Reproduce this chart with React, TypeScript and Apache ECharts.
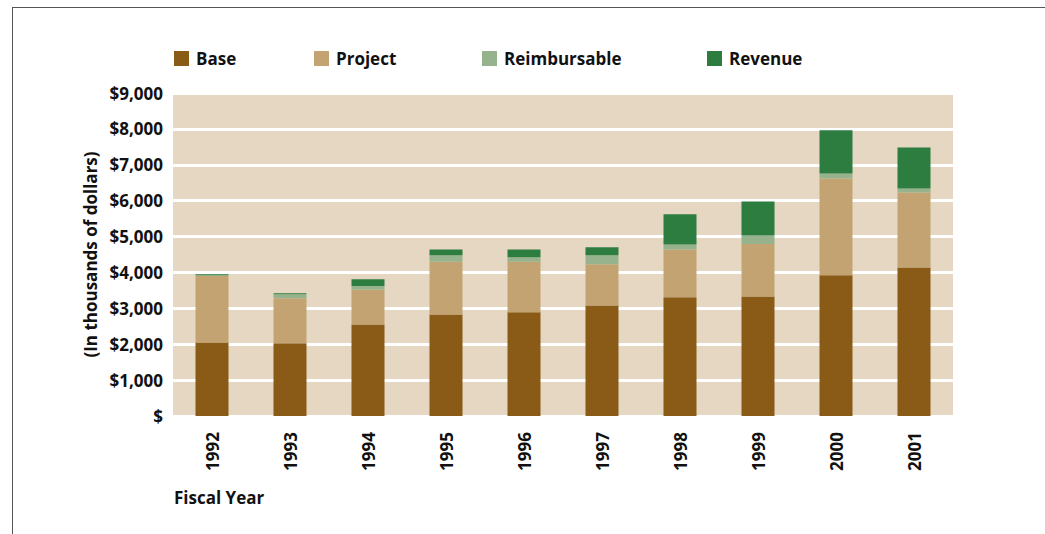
import React, { useEffect, useRef } from "react";
import * as echarts from "echarts";

const years = ["1992", "1993", "1994", "1995", "1996", "1997", "1998", "1999", "2000", "2001"];
const base = [2050, 2030, 2550, 2830, 2890, 3080, 3310, 3330, 3920, 4140];
const project = [1850, 1250, 970, 1470, 1410, 1150, 1330, 1460, 2700, 2090];
const reimbursable = [20, 110, 100, 180, 120, 250, 140, 240, 140, 110];
const revenue = [30, 30, 190, 160, 220, 220, 840, 950, 1200, 1140];
const yTicks = [0, 1000, 2000, 3000, 4000, 5000, 6000, 7000, 8000, 9000];

const FONT = "'Open Sans', 'DejaVu Sans', sans-serif";
const colors = {
  Base: "#8A5A17",
  Project: "#C4A372",
  Reimbursable: "#97B38D",
  Revenue: "#2D7D41",
};

export default function App() {
  const ref = useRef<HTMLDivElement>(null);
  useEffect(() => {
    if (!ref.current) return;
    const chart = echarts.init(ref.current, null, { renderer: "svg" });
    const mkSeries = (name: string, data: number[]) => ({
      name,
      type: "bar",
      stack: "total",
      data,
      barWidth: 33,
      itemStyle: { color: (colors as any)[name] },
    });
    const legendItem = (name: string, left: number) => ({
      data: [name],
      left,
      top: 45,
      itemWidth: 15,
      itemHeight: 15,
      icon: "rect",
      itemGap: 0,
      textStyle: { fontFamily: FONT, fontWeight: "bold", fontSize: 17, color: "#111", padding: [0, 0, 0, 2] },
      selectedMode: false,
    });
    chart.setOption({
      animation: false,
      backgroundColor: "#fff",
      legend: [
        legendItem("Base", 169),
        legendItem("Project", 309),
        legendItem("Reimbursable", 477),
        legendItem("Revenue", 702),
      ],
      grid: {
        left: 173,
        right: 92,
        top: 93,
        bottom: 118,
        show: true,
        backgroundColor: "#E5D7C1",
        borderWidth: 0,
      },
      xAxis: {
        type: "category",
        data: years,
        axisLine: { show: false },
        axisTick: { show: false },
        axisLabel: {
          rotate: 90,
          margin: 16,
          fontFamily: FONT,
          fontWeight: "bold",
          fontSize: 17,
          color: "#111",
        },
      },
      yAxis: {
        type: "value",
        min: yTicks[0],
        max: yTicks[yTicks.length - 1],
        interval: 1000,
        name: "(In thousands of dollars)",
        nameLocation: "middle",
        nameGap: 74,
        nameTextStyle: { fontFamily: FONT, fontWeight: "bold", fontSize: 17, color: "#111" },
        axisLine: { show: false },
        axisTick: { show: false },
        splitLine: { show: true, lineStyle: { color: "#FFFFFF", width: 3 } },
        axisLabel: {
          margin: 10,
          fontFamily: FONT,
          fontWeight: "bold",
          fontSize: 17,
          color: "#111",
          formatter: (v: number) => (v === 0 ? "$" : "$" + v.toLocaleString("en-US")),
        },
      },
      graphic: [
        { type: "line", shape: { x1: 12, y1: 7.5, x2: 1045, y2: 7.5 }, style: { stroke: "#555", lineWidth: 1 } },
        { type: "line", shape: { x1: 12.5, y1: 7, x2: 12.5, y2: 534 }, style: { stroke: "#555", lineWidth: 1 } },
        {
          type: "text",
          left: 174,
          top: 489,
          style: { text: "Fiscal Year", fontFamily: FONT, fontWeight: "bold", fontSize: 17, fill: "#111" },
        },
      ],
      series: [
        mkSeries("Base", base),
        mkSeries("Project", project),
        mkSeries("Reimbursable", reimbursable),
        mkSeries("Revenue", revenue),
      ],
    });
    return () => chart.dispose();
  }, []);
  return <div ref={ref} style={{ position: "fixed", left: 0, top: 0, width: 1045, height: 534 }} />;
}
